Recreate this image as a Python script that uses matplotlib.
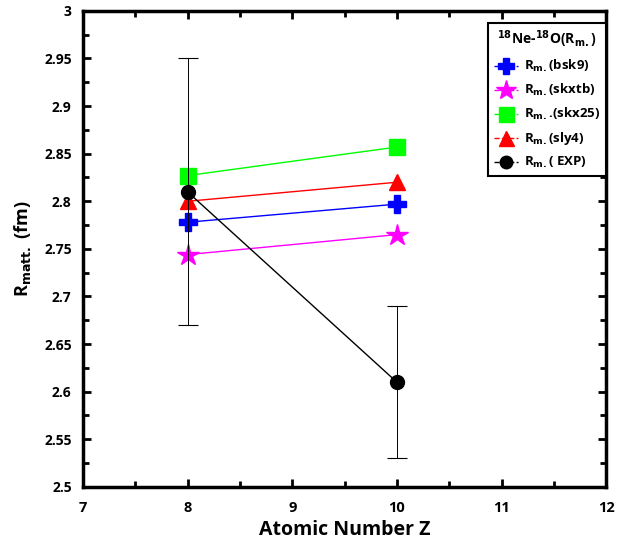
import numpy as np
import matplotlib.pyplot as plt
from matplotlib.lines import Line2D
from matplotlib.ticker import MultipleLocator

plt.rcParams['font.family'] = ['Open Sans', 'DejaVu Sans']
plt.rcParams['font.weight'] = 'bold'
plt.rcParams['mathtext.default'] = 'bf'

# Radios de materia para 18Ne - 18O
z = [8, 10]
r_bsk9 = [2.778, 2.797]
r_skxtb = [2.744, 2.765]
r_skx25 = [2.827, 2.857]
r_sly4 = [2.800, 2.820]
r_exp = [2.81, 2.61]
r_exp_err = [0.14, 0.08]

xticks = [7, 8, 9, 10, 11, 12]
yticks = [2.5, 2.55, 2.6, 2.65, 2.7, 2.75, 2.8, 2.85, 2.9, 2.95, 3.0]
ytick_labels = ['2.5', '2.55', '2.6', '2.65', '2.7', '2.75', '2.8', '2.85',
                '2.9', '2.95', '3']

series = [
    ('R$_{m.}$(bsk9)', r_bsk9, 'blue', 'P', 13),
    ('R$_{m.}$(skxtb)', r_skxtb, 'magenta', '*', 16),
    ('R$_{m.}$.(skx25)', r_skx25, 'lime', 's', 12),
    ('R$_{m.}$(sly4)', r_sly4, 'red', '^', 12),
]

fig = plt.figure(figsize=(6.18, 5.44), dpi=100)
ax = fig.add_axes([0.134, 0.105, 0.847, 0.875])

handles = []
for label, vals, color, mk, ms in series:
    ax.plot(z, vals, color=color, lw=1, marker=mk, ms=ms, mec=color, zorder=3)
    handles.append(Line2D([], [], color=color, lw=1, ls='--', marker=mk,
                          ms=ms * 0.9, mec=color, label=label))

ax.plot(z, r_exp, color='black', lw=1, marker='o', ms=10, zorder=4)
ax.errorbar(z, r_exp, yerr=r_exp_err, fmt='none', ecolor='black', elinewidth=0.7,
            capsize=7, capthick=0.8, zorder=5)
handles.append(Line2D([], [], color='black', lw=1, ls='--', marker='o', ms=9,
                      label='R$_{m.}$( EXP)'))

ax.set_xlim(7, 12)
ax.set_ylim(2.5, 3.0)
ax.set_xticks(xticks, [str(v) for v in xticks], fontsize=10.5, fontweight='bold')
ax.set_yticks(yticks, ytick_labels, fontsize=10, fontweight='bold')
ax.xaxis.set_minor_locator(MultipleLocator(0.5))
ax.yaxis.set_minor_locator(MultipleLocator(0.025))

ax.tick_params(which='both', direction='in', top=True, right=True, width=2)
ax.tick_params(which='major', length=6)
ax.tick_params(which='minor', length=4)
ax.tick_params(axis='x', pad=10)
ax.tick_params(axis='y', pad=8)
for s in ax.spines.values():
    s.set_linewidth(2.5)

ax.set_xlabel('Atomic Number Z', fontsize=14, fontweight='bold', labelpad=4)
ax.set_ylabel('R$_{matt.}$ (fm)', fontsize=13, fontweight='bold', labelpad=8)

leg = ax.legend(handles=handles, title='$^{18}$Ne-$^{18}$O(R$_{m.}$)',
                loc='upper right', bbox_to_anchor=(1.0, 0.975), borderaxespad=0,
                fontsize=9.5, title_fontsize=10, fancybox=False,
                edgecolor='black', framealpha=1, handlelength=1.8,
                handletextpad=0.5, borderpad=0.45, labelspacing=0.6)
leg.get_frame().set_linewidth(1.5)
leg.get_title().set_fontweight('bold')

fig.savefig('out.png', dpi=100)
